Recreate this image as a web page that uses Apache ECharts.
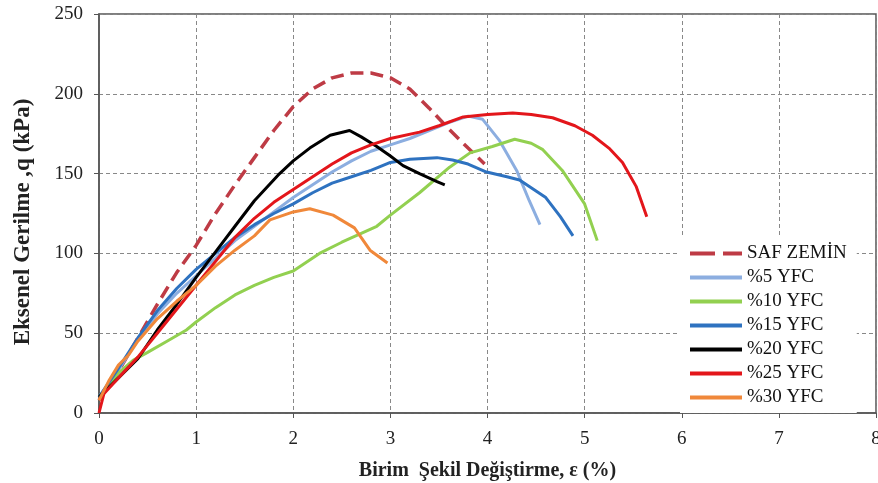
<!DOCTYPE html>
<html>
<head>
<meta charset="utf-8">
<script src="https://cdn.jsdelivr.net/npm/echarts@6/dist/echarts.min.js"></script>
<style>
html, body { margin: 0; padding: 0; background: #fff; }
#chart { width: 878px; height: 483px; }
</style>
</head>
<body>
<div id="chart"></div>
<script>
// birim deformasyon (%) - eksenel gerilme (kPa) çiftleri
var safZemin = [[0, 8], [0.2, 26], [0.4, 47], [0.6, 68], [0.8, 88], [1.0, 105], [1.2, 125], [1.4, 143], [1.6, 160], [1.8, 177], [2.0, 192], [2.2, 203], [2.4, 210], [2.6, 213], [2.8, 213], [3.0, 210], [3.2, 203], [3.4, 191], [3.6, 178], [3.8, 166], [3.97, 156]];
var yfc5 = [[0, 10], [0.2, 27], [0.4, 46], [0.6, 62], [0.8, 75], [1.0, 86], [1.2, 97], [1.4, 108], [1.6, 117], [1.8, 126], [2.0, 135], [2.2, 143], [2.4, 151], [2.6, 158], [2.8, 164], [3.0, 168], [3.2, 172], [3.4, 177], [3.6, 182], [3.8, 186], [3.95, 184], [4.12, 171], [4.3, 152], [4.43, 133], [4.54, 118]];
var yfc10 = [[0, 10], [0.2, 25], [0.35, 33], [0.5, 38], [0.7, 45], [0.9, 52], [1.0, 57], [1.2, 66], [1.4, 74], [1.6, 80], [1.8, 85], [2.0, 89], [2.27, 100], [2.5, 107], [2.86, 117], [3.0, 124], [3.3, 138], [3.61, 154], [3.82, 163], [4.05, 167], [4.28, 171.5], [4.45, 169], [4.57, 165], [4.77, 152], [5.0, 131], [5.13, 108]];
var yfc15 = [[0, 10], [0.2, 28], [0.4, 47], [0.6, 64], [0.8, 78], [1.0, 90], [1.2, 100], [1.4, 110], [1.6, 118], [1.8, 125], [2.0, 131], [2.2, 138], [2.4, 144], [2.6, 148], [2.8, 152], [3.0, 157], [3.2, 159], [3.48, 160], [3.64, 158.5], [3.8, 156], [3.99, 151], [4.2, 148], [4.33, 146], [4.6, 135], [4.75, 123], [4.88, 111]];
var yfc20 = [[0, 10], [0.2, 22], [0.4, 34], [0.6, 52], [0.8, 68], [1.0, 85], [1.2, 101], [1.4, 117], [1.6, 133], [1.86, 150], [2.0, 158], [2.17, 166], [2.38, 174], [2.58, 177], [2.7, 173], [2.86, 167], [3.0, 161], [3.13, 155], [3.3, 150], [3.48, 145], [3.56, 143]];
var yfc25 = [[0, 0], [0.05, 12], [0.2, 22], [0.4, 35], [0.6, 50], [0.8, 65], [1.0, 80], [1.2, 95], [1.4, 110], [1.6, 122], [1.8, 132], [2.0, 140], [2.2, 148], [2.4, 156], [2.6, 163], [2.8, 168], [3.0, 172], [3.3, 176], [3.5, 180], [3.75, 185.5], [4.0, 187], [4.26, 188], [4.45, 187], [4.67, 185], [4.9, 180], [5.08, 174], [5.25, 166], [5.39, 157], [5.53, 142], [5.64, 123]];
var yfc30 = [[0, 8], [0.1, 20], [0.2, 30], [0.3, 36], [0.4, 45], [0.6, 59], [0.8, 70], [1.0, 80], [1.2, 92], [1.4, 102], [1.6, 111], [1.76, 121], [2.0, 126], [2.17, 128], [2.41, 124], [2.63, 116], [2.79, 102], [2.97, 94]];

var seriesNames = ['SAF ZEMİN', '%5 YFC', '%10 YFC', '%15 YFC', '%20 YFC', '%25 YFC', '%30 YFC'];
var seriesData = [safZemin, yfc5, yfc10, yfc15, yfc20, yfc25, yfc30];
var seriesColors = ['#BE3B45', '#8CAEE0', '#92D050', '#2E72C0', '#000000', '#E3161B', '#F0883A'];

var xTicks = [0, 8, 1];
var yTicks = [0, 250, 50];

var serif = '"Liberation Serif", "Times New Roman", serif';
// lejant simgeleri: düz çizgi ve kesikli çizgi
var solidIcon = 'path://M0,0H52V4H0Z';
var dashIcon = 'path://M0,0H25V4H0Z M33,0H52V4H33Z';

var series = [];
var legendData = [];
for (var i = 0; i < seriesNames.length; i++) {
	series.push({
		name: seriesNames[i],
		type: 'line',
		data: seriesData[i],
		symbol: 'none',
		smooth: false,
		color: seriesColors[i],
		lineStyle: {
			width: i == 0 ? 3.5 : 3,
			color: seriesColors[i],
			type: i == 0 ? [13, 7] : 'solid'
		}
	});
	legendData.push({ name: seriesNames[i], icon: i == 0 ? dashIcon : solidIcon });
}

var chart = echarts.init(document.getElementById('chart'));
chart.setOption({
	animation: false,
	backgroundColor: '#fff',
	grid: {
		left: 99,
		right: 2,
		top: 14,
		bottom: 70,
		outerBoundsMode: 'none',
		show: true,
		borderColor: '#555',
		borderWidth: 1.5
	},
	legend: {
		orient: 'vertical',
		left: 680,
		top: 238,
		padding: [6, 10, 6, 10],
		itemWidth: 52,
		itemHeight: 4,
		itemGap: 5,
		backgroundColor: '#fff',
		textStyle: { fontFamily: serif, fontSize: 19, color: '#111' },
		data: legendData
	},
	xAxis: {
		type: 'value',
		min: xTicks[0],
		max: xTicks[1],
		interval: xTicks[2],
		name: 'Birim  Şekil Değiştirme, ε (%)',
		nameLocation: 'middle',
		nameGap: 48,
		nameTextStyle: { fontFamily: serif, fontSize: 20, fontWeight: 'bold', color: '#222' },
		axisLine: { lineStyle: { color: '#555', width: 1.5 } },
		axisTick: { show: true, length: 5, lineStyle: { color: '#555' } },
		axisLabel: { fontFamily: serif, fontSize: 19, color: '#222', margin: 17 },
		splitLine: { show: true, lineStyle: { color: '#888', type: [4, 3], width: 1 } }
	},
	yAxis: {
		type: 'value',
		min: yTicks[0],
		max: yTicks[1],
		interval: yTicks[2],
		name: 'Eksenel Gerilme ,q (kPa)',
		nameLocation: 'middle',
		nameGap: 64,
		nameTextStyle: { fontFamily: serif, fontSize: 23, fontWeight: 'bold', color: '#222', padding: [0, 17, 0, 0] },
		axisLine: { show: true, lineStyle: { color: '#555', width: 1.5 } },
		axisTick: { show: true, length: 5, lineStyle: { color: '#555' } },
		axisLabel: { fontFamily: serif, fontSize: 19, color: '#222', margin: 16 },
		splitLine: { show: true, lineStyle: { color: '#888', type: [4, 3], width: 1 } }
	},
	series: series
});
</script>
</body>
</html>
